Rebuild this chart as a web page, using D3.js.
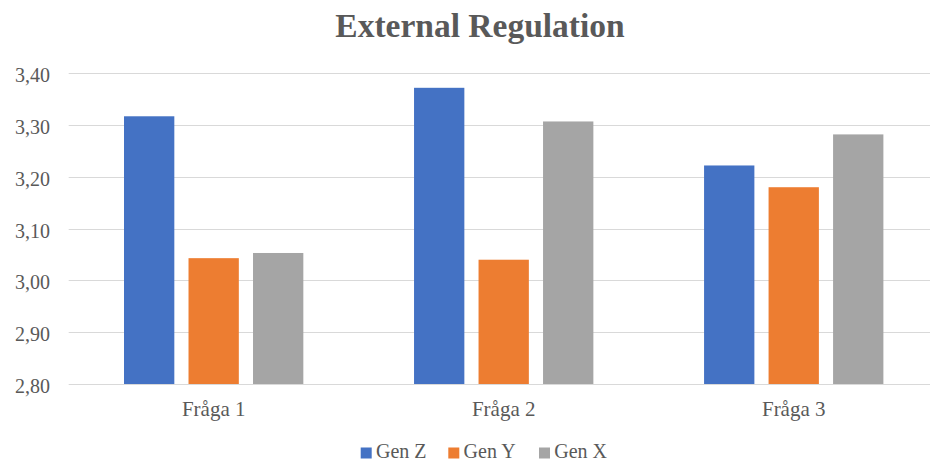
<!DOCTYPE html>
<html>
<head>
<meta charset="utf-8">
<script src="https://cdn.jsdelivr.net/npm/d3@7"></script>
<style>
  html, body { margin: 0; padding: 0; background: #fff; }
  svg { display: block; }
</style>
</head>
<body>
<svg id="chart" width="930" height="463"></svg>
<script>
// Survey means per question, one array per generation
const categories = ["Fråga 1", "Fråga 2", "Fråga 3"];
const seriesNames = ["Gen Z", "Gen Y", "Gen X"];
const genZ = [3.317, 3.372, 3.222];
const genY = [3.043, 3.040, 3.180];
const genX = [3.053, 3.307, 3.282];
const yTicks = [2.80, 2.90, 3.00, 3.10, 3.20, 3.30, 3.40];
const colors = ["#4472C4", "#ED7D31", "#A5A5A5"];
const titleText = "External Regulation";

const seriesValues = [genZ, genY, genX];

const FONT = "'Liberation Serif', 'Times New Roman', serif";
const TEXT_COLOR = "#595959";

const svg = d3.select("#chart");
const W = 930;
const plot = { left: 68.7, right: 938.7, top: 73.3, bottom: 384 };

const x0 = d3.scaleBand()
  .domain(categories)
  .range([plot.left, plot.right])
  .paddingInner(0.3817)
  .paddingOuter(0.1907);

const x1 = d3.scaleBand()
  .domain(seriesNames)
  .range([0, x0.bandwidth()])
  .paddingInner(0.22)
  .paddingOuter(0);

const y = d3.scaleLinear()
  .domain([2.8, 3.4])
  .range([plot.bottom, plot.top]);

const fmt = v => d3.format(".2f")(v).replace(".", ",");

// Title
svg.append("text")
  .attr("x", 480)
  .attr("y", 37)
  .attr("text-anchor", "middle")
  .attr("font-family", FONT)
  .attr("font-size", 33.5)
  .attr("font-weight", "bold")
  .attr("fill", TEXT_COLOR)
  .text(titleText);

// Horizontal gridlines
svg.append("g")
  .selectAll("line")
  .data(yTicks)
  .join("line")
  .attr("x1", plot.left)
  .attr("x2", W)
  .attr("y1", d => Math.round(y(d)) + 0.5)
  .attr("y2", d => Math.round(y(d)) + 0.5)
  .attr("stroke", "#d9d9d9")
  .attr("stroke-width", 1);

// Y axis labels
const yAxis = d3.axisLeft(y)
  .tickValues(yTicks)
  .tickFormat(fmt)
  .tickSize(0)
  .tickPadding(18.7);

const gy = svg.append("g")
  .attr("transform", `translate(${plot.left},0)`)
  .call(yAxis)
  .attr("font-family", FONT)
  .attr("font-size", 20);
gy.select(".domain").remove();
gy.selectAll("text")
  .attr("fill", TEXT_COLOR)
  .attr("dy", "0.42em");

// Bars
const groups = svg.append("g")
  .selectAll("g")
  .data(categories)
  .join("g")
  .attr("transform", d => `translate(${x0(d)},0)`);

groups.selectAll("rect")
  .data((c, ci) => seriesNames.map((s, si) => ({ s, si, v: seriesValues[si][ci] })))
  .join("rect")
  .attr("x", d => x1(d.s))
  .attr("width", x1.bandwidth())
  .attr("y", d => y(d.v))
  .attr("height", d => y(2.8) - y(d.v))
  .attr("fill", d => colors[d.si]);

// X axis labels
const xAxis = d3.axisBottom(x0).tickSize(0).tickPadding(17);
const gx = svg.append("g")
  .attr("transform", `translate(0,${plot.bottom})`)
  .call(xAxis)
  .attr("font-family", FONT)
  .attr("font-size", 21);
gx.select(".domain").remove();
gx.selectAll("text").attr("fill", TEXT_COLOR);

// Legend
const legendItems = [
  { name: seriesNames[0], color: colors[0], x: 360.7 },
  { name: seriesNames[1], color: colors[1], x: 448.3 },
  { name: seriesNames[2], color: colors[2], x: 539 }
];
const legend = svg.append("g")
  .attr("font-family", FONT)
  .attr("font-size", 20);
const li = legend.selectAll("g")
  .data(legendItems)
  .join("g")
  .attr("transform", d => `translate(${d.x},0)`);
li.append("rect")
  .attr("x", 0)
  .attr("y", 447.5)
  .attr("width", 11)
  .attr("height", 11)
  .attr("fill", d => d.color);
li.append("text")
  .attr("x", 15.3)
  .attr("y", 458)
  .attr("fill", TEXT_COLOR)
  .text(d => d.name);
</script>
</body>
</html>
